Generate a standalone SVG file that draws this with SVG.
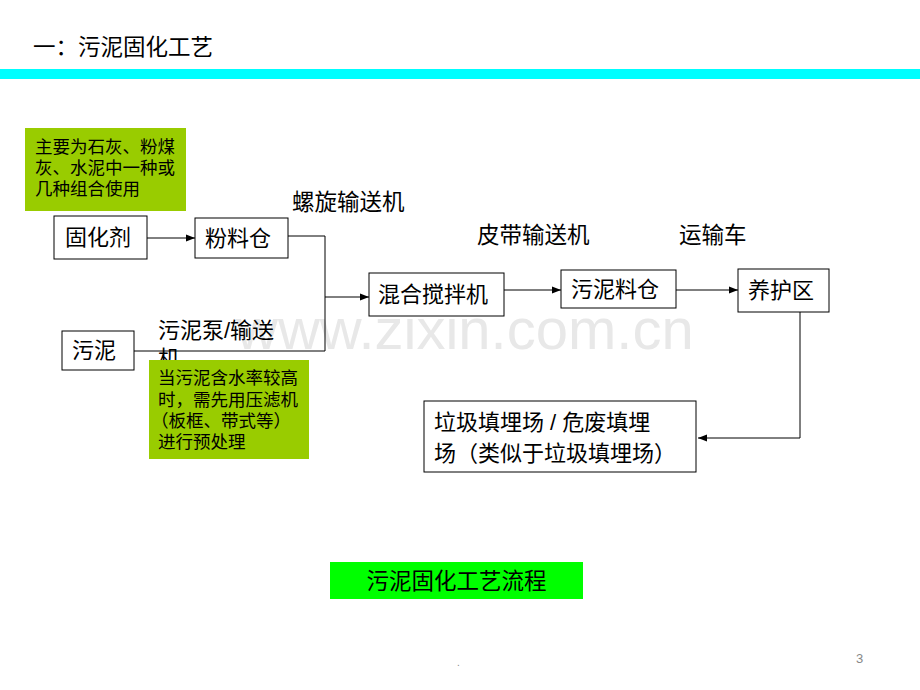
<svg xmlns="http://www.w3.org/2000/svg" width="920" height="690" viewBox="0 0 920 690">
<defs>
<marker id="arr" markerWidth="10" markerHeight="8" refX="9" refY="4" orient="auto" markerUnits="userSpaceOnUse">
<path d="M0,0.5 L9,4 L0,7.5 Z" fill="#000"/>
</marker>
<style>
text{font-family:"Liberation Sans","Noto Sans CJK SC",sans-serif;fill:#000}
.box{fill:#fff;stroke:#000;stroke-width:1}
.t20{font-size:22px}
.t19{font-size:22.5px}
.t16{font-size:17.5px}
.line{fill:none;stroke:#000;stroke-width:1}
</style>
</defs>
<rect width="920" height="690" fill="#fff"/>
<text x="33" y="55" style="font-size:22.5px">一：污泥固化工艺</text>
<rect x="0" y="69" width="920" height="10" fill="#00FFFF"/>
<text x="236" y="349" style="font-size:58px;fill:#e8e8e8;font-family:'Liberation Sans',sans-serif">www.zixin.com.cn</text>

<g id="connectors">
<path class="line" d="M147,238 H195" marker-end="url(#arr)"/>
<path class="line" d="M288,236 H325 V351 H134"/>
<path class="line" d="M325,297 H369" marker-end="url(#arr)"/>
<path class="line" d="M504,290 H561" marker-end="url(#arr)"/>
<path class="line" d="M676,290 H738" marker-end="url(#arr)"/>
<path class="line" d="M800,312 V438 H698" marker-end="url(#arr)"/>
</g>

<g id="label-screw"><text x="292" y="210" class="t19">螺旋输送机</text></g>
<g id="label-belt"><text x="477" y="243" class="t19">皮带输送机</text></g>
<g id="label-truck"><text x="679" y="243" class="t19">运输车</text></g>
<g id="label-pump"><text x="158" y="338" class="t20">污泥泵/输送</text><text x="158" y="366" class="t20">机</text></g>

<g id="note1">
<rect x="25" y="128" width="161" height="83" fill="#99CC00"/>
<text x="35" y="153" class="t16">主要为石灰、粉煤</text>
<text x="35" y="174" class="t16">灰、水泥中一种或</text>
<text x="35" y="195" class="t16">几种组合使用</text>
</g>

<g id="note2">
<rect x="149" y="360" width="160" height="99" fill="#99CC00"/>
<text x="158" y="384" class="t16">当污泥含水率较高</text>
<text x="158" y="406" class="t16">时，需先用压滤机</text>
<text x="151" y="427" class="t16">（板框、带式等）</text>
<text x="158" y="448" class="t16">进行预处理</text>
</g>

<g id="n-agent"><rect class="box" x="54" y="216" width="93" height="43"/><text x="65" y="245" class="t20">固化剂</text></g>
<g id="n-powder"><rect class="box" x="195" y="218" width="93" height="40"/><text x="205" y="246" class="t20">粉料仓</text></g>
<g id="n-sludge"><rect class="box" x="62" y="331" width="72" height="39"/><text x="72" y="358" class="t20">污泥</text></g>
<g id="n-mixer"><rect class="box" x="369" y="273" width="135" height="43"/><text x="378" y="302" class="t20">混合搅拌机</text></g>
<g id="n-silo"><rect class="box" x="561" y="270" width="115" height="38"/><text x="571" y="297" class="t20">污泥料仓</text></g>
<g id="n-cure"><rect class="box" x="738" y="269" width="91" height="43"/><text x="748" y="298" class="t20">养护区</text></g>
<g id="n-landfill"><rect class="box" x="424" y="401" width="272" height="71"/>
<text x="434" y="430" class="t20">垃圾填埋场 / 危废填埋</text>
<text x="434" y="461" class="t20">场（类似于垃圾填埋场）</text></g>

<g id="caption"><rect x="330" y="562" width="253" height="37" fill="#00FF00"/><text x="456.5" y="589" style="font-size:22.5px" text-anchor="middle">污泥固化工艺流程</text></g>

<text x="457" y="666" style="font-size:10px;fill:#888">.</text>
<text x="856" y="663" style="font-size:13px;fill:#888">3</text>
</svg>
